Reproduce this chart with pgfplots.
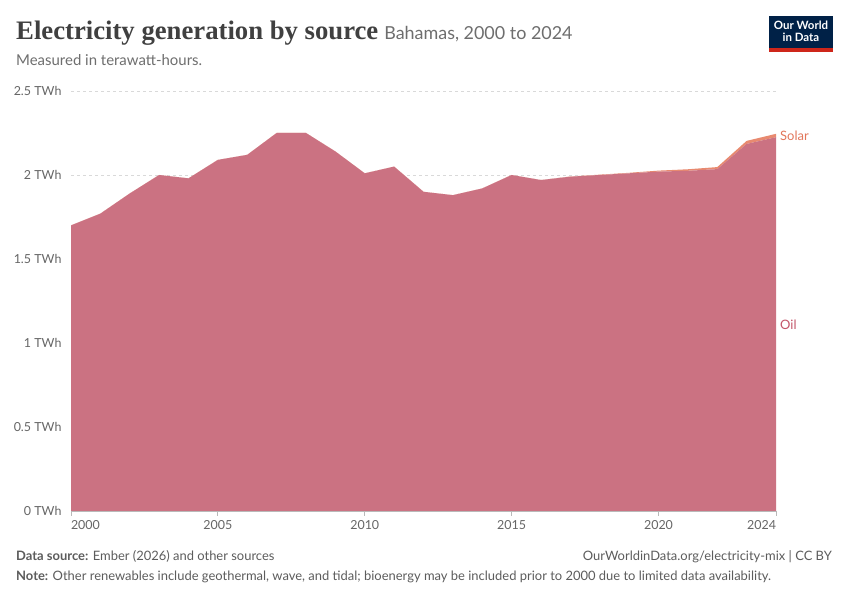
\documentclass[border=0pt]{standalone}
\usepackage{pgfplots}
\pgfplotsset{compat=1.18}
\usepackage{fontspec}
\setmainfont{Lato}
\newfontfamily\titlefont{Liberation Serif}
\definecolor{oil}{RGB}{203,114,130}
\definecolor{solar}{RGB}{232,138,112}
\definecolor{oillab}{RGB}{196,86,106}
\definecolor{solarlab}{RGB}{226,118,90}
\definecolor{titlec}{RGB}{64,64,64}
\definecolor{subc}{RGB}{110,110,110}
\definecolor{tickc}{RGB}{102,102,102}
\definecolor{footc}{RGB}{92,92,92}
\definecolor{owidblue}{RGB}{0,33,71}
\definecolor{owidred}{RGB}{206,38,26}
\begin{document}
\begin{tikzpicture}[x=1bp,y=1bp]
\useasboundingbox (0,0) rectangle (850,600);
\fill[white] (0,0) rectangle (850,600);
\begin{axis}[
  at={(71bp,89bp)}, anchor=south west,
  scale only axis, width=705bp, height=420bp,
  xmin=2000, xmax=2024, ymin=0, ymax=2.5,
  axis lines=left, axis line style={-},
  y axis line style={draw=none},
  x axis line style={draw=gray!55, line width=0.8bp},
  ytick={0,0.5,1,1.5,2,2.5},
  yticklabels={0 TWh,0.5 TWh,1 TWh,1.5 TWh,2 TWh,2.5 TWh},
  xtick={2000,2005,2010,2015,2020,2024},
  xticklabels={\rlap{2000},2005,2010,2015,2020,\llap{2024}},
  tick align=outside, major tick length=5bp,
  ytick style={draw=none},
  xtick style={draw=gray!55, line width=0.8bp},
  ymajorgrids, grid style={draw=gray!30, dash pattern=on 3bp off 3bp, line width=0.8bp},
  yticklabel style={font=\fontsize{12.5}{12.5}\selectfont, text=tickc, anchor=east, xshift=-1bp},
  xticklabel style={font=\fontsize{12.5}{12.5}\selectfont, text=tickc, anchor=north, yshift=-1bp},
  stack plots=y,
  clip=false,
]
\addplot[fill=oil, draw=none] coordinates {
(2000,1.70)(2001,1.77)(2002,1.89)(2003,2.00)(2004,1.98)(2005,2.09)(2006,2.12)
(2007,2.25)(2008,2.25)(2009,2.14)(2010,2.01)(2011,2.05)(2012,1.90)(2013,1.88)
(2014,1.92)(2015,2.00)(2016,1.97)(2017,1.99)(2018,2.00)(2019,2.01)(2020,2.02)
(2021,2.025)(2022,2.035)(2023,2.185)(2024,2.225)} \closedcycle;
\addplot[fill=solar, draw=none] coordinates {
(2000,0)(2001,0)(2002,0)(2003,0)(2004,0)(2005,0)(2006,0)(2007,0)(2008,0)
(2009,0)(2010,0)(2011,0)(2012,0)(2013,0)(2014,0)(2015,0)(2016,0)(2017,0.001)
(2018,0.002)(2019,0.003)(2020,0.006)(2021,0.009)(2022,0.012)(2023,0.018)(2024,0.02)} \closedcycle;
\end{axis}
% labels at right
\node[anchor=west, inner sep=0, text=solarlab, font=\fontsize{13}{13}\selectfont] at (780,464) {Solar};
\node[anchor=west, inner sep=0, text=oillab, font=\fontsize{13}{13}\selectfont] at (780,275) {Oil};
% title
\node[anchor=base west, inner sep=0, text=titlec] at (16,560) {{\titlefont\bfseries\fontsize{26.8}{26.8}\selectfont Electricity generation by source}\hspace{6bp}{\color{subc}\fontsize{18}{18}\selectfont Bahamas, 2000 to 2024}};
\node[anchor=base west, inner sep=0, text=subc, font=\fontsize{15}{15}\selectfont] at (16,534) {Measured in terawatt-hours.};
% logo
\fill[owidblue] (769,552) rectangle (833,584);
\fill[owidred] (769,548) rectangle (833,552);
\node[align=center, text=white, inner sep=0, font=\fontsize{11.5}{12}\selectfont\bfseries] at (801,568.5) {Our World\\in Data};
% footer
\node[anchor=base west, inner sep=0, text=footc, font=\fontsize{13}{13}\selectfont] at (16,39) {\textbf{Data source:} Ember (2026) and other sources};
\node[anchor=base east, inner sep=0, text=footc, font=\fontsize{13}{13}\selectfont] at (832,39) {OurWorldinData.org/electricity-mix | CC BY};
\node[anchor=base west, inner sep=0, text=footc, font=\fontsize{13}{13}\selectfont] at (16,19) {\textbf{Note:} Other renewables include geothermal, wave, and tidal; bioenergy may be included prior to 2000 due to limited data availability.};
\end{tikzpicture}
\end{document}
